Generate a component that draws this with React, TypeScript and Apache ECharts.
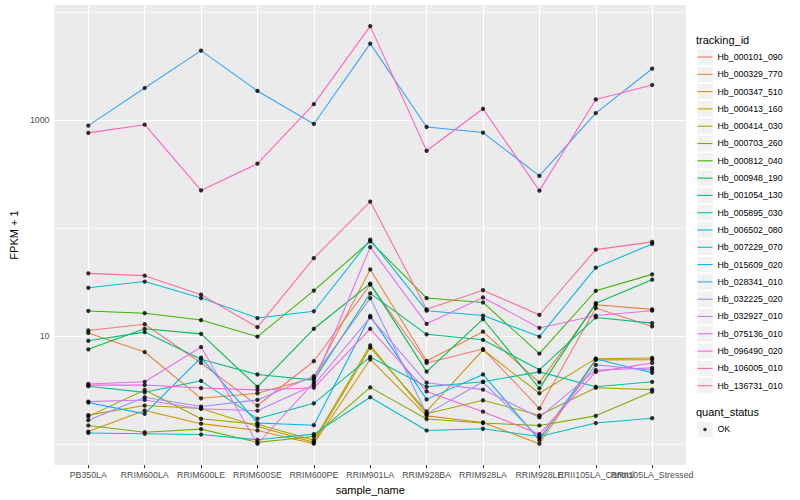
import React, { useEffect, useRef } from 'react';
import * as echarts from 'echarts';

const categories = [
  'PB350LA', 'RRIM600LA', 'RRIM600LE', 'RRIM600SE', 'RRIM600PE', 'RRIM901LA',
  'RRIM928BA', 'RRIM928LA', 'RRIM928LE', 'RRII105LA_Control', 'RRII105LA_Stressed',
];

const trackingIds = [
  'Hb_000101_090', 'Hb_000329_770', 'Hb_000347_510', 'Hb_000413_160', 'Hb_000414_030',
  'Hb_000703_260', 'Hb_000812_040', 'Hb_000948_190', 'Hb_001054_130', 'Hb_005895_030',
  'Hb_006502_080', 'Hb_007229_070', 'Hb_015609_020', 'Hb_028341_010', 'Hb_032225_020',
  'Hb_032927_010', 'Hb_075136_010', 'Hb_096490_020', 'Hb_106005_010', 'Hb_136731_010',
];

const lineColors = [
  '#F8766D', '#EA8331', '#D89000', '#C09B00', '#A3A500', '#7CAE00', '#39B600', '#00BB4E',
  '#00BF7D', '#00C1A3', '#00BFC4', '#00BAE0', '#00B0F6', '#35A2FF', '#9590FF', '#C77CFF',
  '#E76BF3', '#FA62DB', '#FF62BC', '#FF6C91',
];

// FPKM + 1 per sample (order of categories)
const Hb_000101_090 = [11.3, 12.9, 5.65, 2.28, 5.86, 30.0, 5.65, 7.6, 2.15, 18.2, 12.3];
const Hb_000329_770 = [10.7, 7.13, 2.66, 2.96, 4.12, 41.4, 5.9, 11.0, 3.73, 19.5, 17.7];
const Hb_000347_510 = [1.31, 2.05, 1.55, 1.34, 1.01, 6.11, 1.83, 1.59, 1.01, 6.03, 6.06];
const Hb_000413_160 = [1.86, 2.28, 2.14, 1.46, 1.04, 7.81, 2.01, 7.48, 2.96, 6.19, 6.28];
const Hb_000414_030 = [1.81, 3.18, 1.72, 1.53, 1.09, 8.22, 1.91, 2.55, 1.85, 3.33, 3.2];
const Hb_000703_260 = [1.49, 1.29, 1.38, 1.04, 1.18, 3.36, 1.71, 1.57, 1.49, 1.83, 3.06];
const Hb_000812_040 = [17.1, 16.3, 14.1, 9.9, 26.4, 75.5, 22.5, 20.5, 6.9, 26.3, 37.3];
const Hb_000948_190 = [7.55, 11.7, 10.5, 3.4, 11.7, 30.6, 4.7, 14.4, 3.29, 20.2, 33.3];
const Hb_001054_130 = [9.06, 10.9, 6.11, 4.42, 3.92, 24.9, 10.4, 9.25, 4.88, 14.9, 13.2];
const Hb_005895_030 = [3.44, 3.02, 3.86, 1.72, 2.39, 6.42, 3.4, 3.78, 4.67, 3.4, 3.78];
const Hb_006502_080 = [1.27, 1.25, 1.23, 1.1, 1.24, 2.72, 1.34, 1.39, 1.18, 1.57, 1.74];
const Hb_007229_070 = [28.0, 32.0, 22.5, 14.7, 17.0, 78.1, 17.2, 15.5, 9.9, 43.0, 71.3];
const Hb_015609_020 = [2.43, 1.91, 6.32, 1.57, 1.5, 15.4, 2.6, 4.42, 1.09, 6.15, 4.58];
const Hb_028341_010 = [887, 1977, 4387, 1857, 919, 5085, 862, 765, 304, 1159, 2981];
const Hb_032225_020 = [1.67, 2.72, 2.23, 2.57, 4.27, 22.5, 1.91, 3.78, 1.14, 5.42, 4.84];
const Hb_032927_010 = [2.48, 2.57, 2.13, 2.04, 3.53, 14.9, 3.71, 3.2, 1.77, 4.84, 5.09];
const Hb_075136_010 = [3.61, 3.78, 7.93, 1.01, 3.71, 66.5, 13.0, 22.8, 11.9, 15.5, 17.2];
const Hb_096490_020 = [3.52, 3.53, 3.31, 3.18, 3.33, 11.7, 3.08, 2.0, 1.24, 4.67, 5.65];
const Hb_106005_010 = [760, 905, 223, 395, 1402, 7390, 519, 1270, 222, 1549, 2108];
const Hb_136731_010 = [38.1, 36.3, 24.2, 12.1, 52.7, 175.8, 17.7, 26.6, 15.7, 63.2, 74.5];

const seriesValues = [
  Hb_000101_090, Hb_000329_770, Hb_000347_510, Hb_000413_160, Hb_000414_030,
  Hb_000703_260, Hb_000812_040, Hb_000948_190, Hb_001054_130, Hb_005895_030,
  Hb_006502_080, Hb_007229_070, Hb_015609_020, Hb_028341_010, Hb_032225_020,
  Hb_032927_010, Hb_075136_010, Hb_096490_020, Hb_106005_010, Hb_136731_010,
];

const quantStatus = ['OK'];
const yTickLabels = [10, 1000];
const majorGridY = [10, 1000];
const minorGridY = [1, 100, 10000];

const FONT = '"Liberation Sans", Arial, Helvetica, sans-serif';

export default function App() {
  const ref = useRef<HTMLDivElement>(null);

  useEffect(() => {
    const chart = echarts.init(ref.current!, null, { renderer: 'svg' });
    const catIdx = categories.map((_, i) => i);
    const evenIdx = catIdx.filter((i) => i % 2 === 0);
    const oddIdx = catIdx.filter((i) => i % 2 === 1);

    const lineSeries = trackingIds.map((name, s) => ({
      name,
      type: 'line',
      xAxisIndex: 0,
      data: seriesValues[s].map((v, i) => [i, v]),
      showSymbol: false,
      symbol: 'none',
      color: lineColors[s],
      lineStyle: { width: 1.07, color: lineColors[s] },
      itemStyle: { color: lineColors[s] },
      silent: true,
      z: 2,
    }));

    const points: number[][] = [];
    seriesValues.forEach((vals) => vals.forEach((v, i) => points.push([i, v])));

    const gridLines: any[] = [
      ...minorGridY.map((v) => ({ yAxis: v, lineStyle: { width: 0.55 } })),
      ...majorGridY.map((v) => ({ yAxis: v, lineStyle: { width: 1.07 } })),
      ...catIdx.map((i) => ({ xAxis: i, lineStyle: { width: 1.07 } })),
    ];

    const keyBoxes = [
      ...trackingIds.map((_, i) => ({
        type: 'rect',
        shape: { x: 697.5, y: 48.35 + i * 17.3 + 1, width: 15.3, height: 15.3 },
        style: { fill: '#F2F2F2' },
        silent: true,
      })),
      {
        type: 'rect',
        shape: { x: 697.5, y: 420.85 + 1, width: 15.3, height: 15.3 },
        style: { fill: '#F2F2F2' },
        silent: true,
      },
    ];

    const xAxisBase = (values: number[]) => ({
      type: 'value',
      min: -0.6,
      max: 10.6,
      position: 'bottom',
      offset: 0,
      axisLine: { show: false },
      splitLine: { show: false },
      axisTick: { show: true, customValues: values, length: 3, lineStyle: { color: '#333333', width: 1.07 } },
      axisLabel: {
        customValues: values,
        formatter: (v: number) => categories[Math.round(v)] ?? '',
        hideOverlap: false,
        fontSize: 8.8,
        color: '#4D4D4D',
        margin: 5,
        fontFamily: FONT,
      },
    });

    chart.setOption({
      animation: false,
      textStyle: { fontFamily: FONT },
      title: [
        { text: 'tracking_id', left: 696, top: 34.5, padding: 0, textStyle: { fontSize: 11, fontWeight: 'normal', color: '#000', fontFamily: FONT } },
        { text: 'quant_status', left: 696, top: 406.5, padding: 0, textStyle: { fontSize: 11, fontWeight: 'normal', color: '#000', fontFamily: FONT } },
      ],
      grid: {
        left: 45, right: 114, top: 5, bottom: 31,
        show: true, backgroundColor: '#EBEBEB', borderWidth: 0,
      },
      xAxis: [
        {
          ...xAxisBase(evenIdx),
          name: 'sample_name',
          nameLocation: 'middle',
          nameGap: 13,
          nameTextStyle: { fontSize: 11, color: '#000', fontFamily: FONT },
        },
        xAxisBase(oddIdx),
      ],
      yAxis: {
        type: 'log',
        logBase: 10,
        min: 0.641,
        max: 11590,
        name: 'FPKM + 1',
        nameLocation: 'middle',
        nameGap: 27,
        nameTextStyle: { fontSize: 11, color: '#000', fontFamily: FONT },
        axisLine: { show: false },
        axisTick: { show: false },
        splitLine: { show: false },
        minorSplitLine: { show: false },
        axisLabel: {
          formatter: (v: number) => {
            const hit = yTickLabels.find((t) => Math.abs(v - t) / t < 1e-6);
            return hit !== undefined ? String(hit) : '';
          },
          fontSize: 8.8,
          color: '#4D4D4D',
          margin: 5,
          fontFamily: FONT,
        },
      },
      legend: [
        {
          orient: 'vertical',
          left: 697.5,
          top: 48.35,
          padding: 0,
          itemGap: 0,
          itemWidth: 15,
          itemHeight: 17.3,
          icon: 'path://M0,0 M15,17.3 M0,8.1 L15,8.1 L15,9.2 L0,9.2 Z',
          itemStyle: { borderWidth: 0 },
          selectedMode: false,
          data: trackingIds,
          textStyle: { fontSize: 8.8, color: '#000', fontFamily: FONT },
        },
        {
          orient: 'vertical',
          left: 697.5,
          top: 420.85,
          padding: 0,
          itemGap: 0,
          itemWidth: 15,
          itemHeight: 17.3,
          icon: 'path://M0,0 M15,17.3 M5.7,8.65 A1.8,1.8 0 1 1 9.3,8.65 A1.8,1.8 0 1 1 5.7,8.65 Z',
          itemStyle: { borderWidth: 0 },
          selectedMode: false,
          data: quantStatus,
          textStyle: { fontSize: 8.8, color: '#000', fontFamily: FONT },
        },
      ],
      graphic: keyBoxes,
      series: [
        ...lineSeries,
        {
          name: quantStatus[0],
          type: 'scatter',
          xAxisIndex: 0,
          data: points,
          symbol: 'circle',
          symbolSize: 4.3,
          itemStyle: { color: '#000000' },
          silent: true,
          z: 4,
          markLine: {
            z: 1,
            silent: true,
            symbol: ['none', 'none'],
            label: { show: false },
            emphasis: { disabled: true },
            lineStyle: { color: '#FFFFFF', type: 'solid', width: 1.07 },
            data: gridLines,
            animation: false,
          },
        },
      ],
    });

    return () => chart.dispose();
  }, []);

  return <div ref={ref} style={{ position: 'absolute', left: 0, top: 0, width: 800, height: 500 }} />;
}
